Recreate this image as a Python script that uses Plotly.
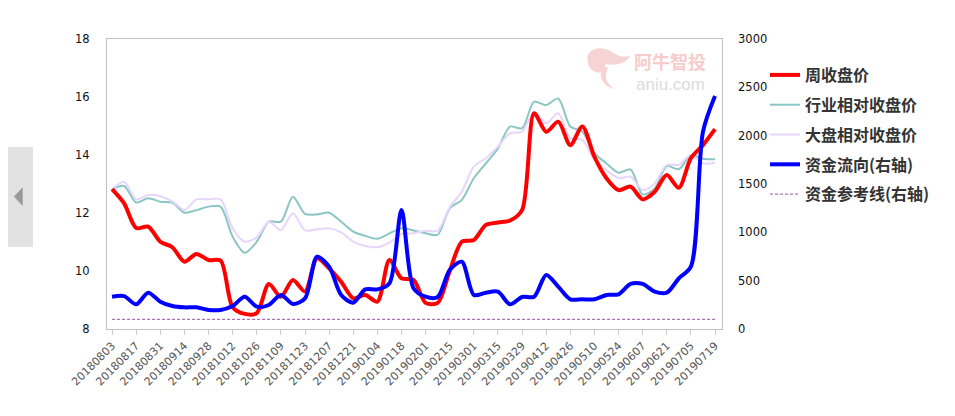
import plotly.graph_objects as go

dates = ["20180803", "20180810", "20180817", "20180824", "20180831", "20180907", "20180914",
         "20180921", "20180928", "20181005", "20181012", "20181019", "20181026", "20181102",
         "20181109", "20181116", "20181123", "20181130", "20181207", "20181214", "20181221",
         "20181228", "20190104", "20190111", "20190118", "20190125", "20190201", "20190208",
         "20190215", "20190222", "20190301", "20190308", "20190315", "20190322", "20190329",
         "20190405", "20190412", "20190419", "20190426", "20190503", "20190510", "20190517",
         "20190524", "20190531", "20190607", "20190614", "20190621", "20190628", "20190705",
         "20190712", "20190719"]

close = [12.82, 12.33, 11.48, 11.53, 11.01, 10.82, 10.32, 10.59, 10.38, 10.36,
         8.75, 8.52, 8.55, 9.55, 9.11, 9.69, 9.29, 10.44, 10.09, 9.63,
         9.06, 9.17, 8.94, 10.38, 9.75, 9.69, 8.90, 8.90, 10.00, 11.01,
         11.07, 11.59, 11.67, 11.74, 12.10, 15.44, 14.80, 15.15, 14.34, 14.98,
         13.94, 13.20, 12.79, 12.91, 12.47, 12.73, 13.31, 12.87, 13.89, 14.34,
         14.89]

industry = [12.82, 12.93, 12.36, 12.51, 12.39, 12.36, 12.01, 12.10, 12.22, 12.22,
            11.18, 10.63, 11.01, 11.70, 11.70, 12.56, 11.97, 11.95, 12.01, 11.70,
            11.36, 11.21, 11.11, 11.30, 11.47, 11.40, 11.30, 11.25, 12.16, 12.45,
            13.20, 13.71, 14.23, 14.98, 14.92, 15.84, 15.72, 15.95, 14.98, 14.80,
            14.06, 13.71, 13.39, 13.50, 12.64, 12.85, 13.62, 13.51, 14.00, 13.87,
            13.85]

market = [12.82, 13.08, 12.47, 12.62, 12.58, 12.40, 12.10, 12.47, 12.47, 12.47,
          11.47, 11.01, 11.16, 11.70, 11.41, 11.99, 11.40, 11.44, 11.47, 11.33,
          11.01, 10.86, 10.82, 10.98, 11.28, 11.30, 11.39, 11.39, 12.20, 12.73,
          13.60, 13.89, 14.29, 14.75, 14.80, 15.49, 15.09, 15.44, 14.58, 14.52,
          13.83, 13.48, 13.20, 13.25, 12.79, 13.02, 13.66, 13.66, 14.00, 13.71,
          13.73]

flow = [334, 340, 255, 376, 283, 238, 224, 224, 197, 197,
        238, 334, 231, 248, 352, 259, 317, 748, 645, 352,
        272, 410, 410, 472, 1231, 421, 334, 331, 610, 696,
        352, 376, 386, 255, 331, 334, 559, 438, 307, 307,
        307, 352, 359, 466, 466, 386, 376, 524, 645, 2040,
        2410]

ref_level = 100

left_ticks = [8, 10, 12, 14, 16, 18]
right_ticks = [0, 500, 1000, 1500, 2000, 2500, 3000]

# plot-area pixel geometry
W, H = 955, 416
L, R, T, B = 107, 722, 39, 329


def px(x):
    return (x - L) / (R - L)


def py(y):
    return (B - y) / (B - T)


def path(points, close_path=True):
    s = ""
    for cmd, pts in points:
        s += cmd + " " + " ".join(f"{px(a):.4f},{py(b):.4f}" for a, b in pts) + " "
    return s + ("Z" if close_path else "")


fig = go.Figure()

fig.add_trace(go.Scatter(x=dates, y=industry, name="行业相对收盘价", mode="lines",
                         line=dict(color="#8cc6c4", width=2, shape="spline", smoothing=0.8),
                         legendgroup="b", legendrank=2, hoverinfo="skip"))
fig.add_trace(go.Scatter(x=dates, y=market, name="大盘相对收盘价", mode="lines",
                         line=dict(color="#e6d6fb", width=2, shape="spline", smoothing=0.8),
                         legendgroup="c", legendrank=3, hoverinfo="skip"))
fig.add_trace(go.Scatter(x=dates, y=close, name="周收盘价", mode="lines",
                         line=dict(color="#ff0000", width=4, shape="spline", smoothing=0.8),
                         legendgroup="a", legendrank=1, hoverinfo="skip"))
fig.add_trace(go.Scatter(x=dates, y=flow, name="资金流向(右轴)", mode="lines", yaxis="y2",
                         line=dict(color="#0000ff", width=4, shape="spline", smoothing=0.8),
                         legendgroup="d", legendrank=4, hoverinfo="skip"))
fig.add_trace(go.Scatter(x=dates, y=[ref_level] * len(dates), name="资金参考线(右轴)", mode="lines",
                         yaxis="y2",
                         line=dict(color="#9a4fa8", width=1, dash="3px,2px"),
                         legendgroup="e", legendrank=5, hoverinfo="skip"))

shapes = [
    # left navigation tab
    dict(type="rect", xref="paper", yref="paper", x0=px(8), x1=px(33), y0=py(247), y1=py(147),
         fillcolor="#e2e2e2", line=dict(width=0), layer="above"),
    dict(type="path", xref="paper", yref="paper",
         path=path([("M", [(14, 196.5)]), ("L", [(22.7, 187.3)]), ("L", [(22.7, 206)])]),
         fillcolor="#999999", line=dict(width=0), layer="above"),
    # watermark logo
    dict(type="path", xref="paper", yref="paper",
         path=path([("M", [(588, 62)]),
                    ("C", [(584, 50), (600, 44), (612, 52)]),
                    ("C", [(618, 56), (624, 58), (630, 56)]),
                    ("C", [(626, 64), (614, 66), (606, 64)]),
                    ("C", [(604, 70), (600, 74), (596, 72)]),
                    ("C", [(590, 70), (588, 66), (588, 62)])]),
         fillcolor="#f7d4d4", line=dict(width=0), layer="below"),
    dict(type="path", xref="paper", yref="paper",
         path=path([("M", [(603, 66)]),
                    ("C", [(597, 76), (603, 87), (615, 89)]),
                    ("C", [(606, 84), (604, 77), (608, 68)])]),
         fillcolor="#f7d4d4", line=dict(width=0), layer="below"),
]

annotations = [
    dict(text="<b>阿牛智投</b>", xref="paper", yref="paper", x=px(670), y=py(61),
         xanchor="center", yanchor="middle", showarrow=False,
         font=dict(family="Noto Sans CJK SC", size=18, color="#f6cccc")),
    dict(text="aniu.com", xref="paper", yref="paper", x=px(670), y=py(84),
         xanchor="center", yanchor="middle", showarrow=False,
         font=dict(family="Liberation Sans", size=17, color="#dcdcdc")),
]

fig.update_layout(
    width=W, height=H,
    margin=dict(l=L, r=W - R, t=T, b=H - B, pad=0),
    paper_bgcolor="#ffffff", plot_bgcolor="#ffffff",
    showlegend=True,
    legend=dict(x=px(765), y=py(58), xanchor="left", yanchor="top",
                font=dict(family="Noto Sans CJK SC", size=16, color="#333333", weight="bold"),
                traceorder="grouped", tracegroupgap=6, bgcolor="rgba(0,0,0,0)",
                borderwidth=0),
    xaxis=dict(type="category", range=[-0.42, 50.58], tickmode="array",
               tickvals=dates[::2], ticktext=dates[::2], tickangle=-45,
               ticks="outside", ticklen=5, tickcolor="#c0d0e0",
               showline=True, linecolor="#c0c0c0", mirror=True, showgrid=False, zeroline=False,
               tickfont=dict(family="DejaVu Sans", size=11, color="#555555")),
    yaxis=dict(range=[8, 18], tickmode="array", tickvals=left_ticks,
               showline=True, linecolor="#c0c0c0", mirror=True, showgrid=False, zeroline=False,
               ticks="", ticklabelstandoff=14,
               tickfont=dict(family="DejaVu Sans", size=11.5, color="#111111")),
    yaxis2=dict(range=[0, 3000], tickmode="array", tickvals=right_ticks, overlaying="y",
                side="right", showgrid=False, zeroline=False, showline=False,
                ticks="", ticklabelstandoff=15,
                tickfont=dict(family="DejaVu Sans", size=11.5, color="#111111")),
    shapes=shapes,
    annotations=annotations,
)

fig.write_html("out.html")
